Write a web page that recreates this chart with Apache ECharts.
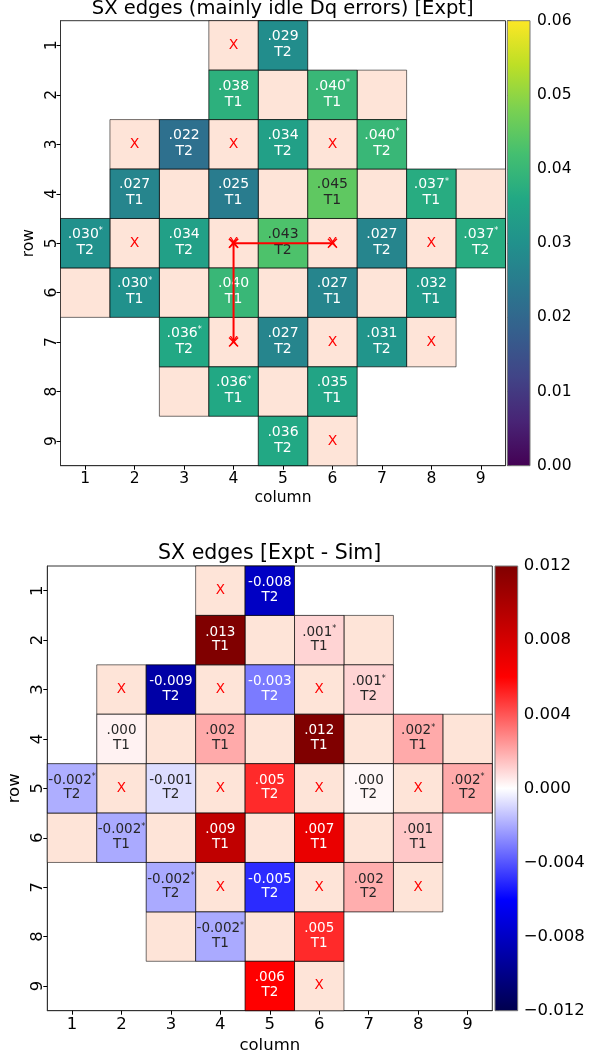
<!DOCTYPE html>
<html><head><meta charset="utf-8">
<script src="https://cdn.jsdelivr.net/npm/echarts@6/dist/echarts.min.js"></script>
<style>html,body{margin:0;padding:0;background:#fff}#c{width:612px;height:1059px}</style>
</head><body><div id="c"></div>
<script>
// ---------- data ----------
const COLUMNS = ['1','2','3','4','5','6','7','8','9'];
const ROWS = ['1','2','3','4','5','6','7','8','9'];
// measured SX edges: [row, column, gate, starred]
const edgeCells = [
  [1,5,'T2',false],[2,4,'T1',false],[2,6,'T1',true],[3,3,'T2',false],[3,5,'T2',false],[3,7,'T2',true],
  [4,2,'T1',false],[4,4,'T1',false],[4,6,'T1',false],[4,8,'T1',true],
  [5,1,'T2',true],[5,3,'T2',false],[5,5,'T2',false],[5,7,'T2',false],[5,9,'T2',true],
  [6,2,'T1',true],[6,4,'T1',false],[6,6,'T1',false],[6,8,'T1',false],
  [7,3,'T2',true],[7,5,'T2',false],[7,7,'T2',false],
  [8,4,'T1',true],[8,6,'T1',false],[9,5,'T2',false]
];
const exptValues = [0.029,0.038,0.040,0.022,0.034,0.040,0.027,0.025,0.045,0.037,
  0.030,0.034,0.043,0.027,0.037,0.030,0.040,0.027,0.032,0.036,0.027,0.031,0.036,0.035,0.036];
const diffValues = [-0.008,0.013,0.001,-0.009,-0.0031,0.001,0.0003,0.002,0.012,0.002,
  -0.0019,-0.0008,0.005,0.0002,0.002,-0.002,0.009,0.007,0.0013,-0.002,-0.005,0.0019,-0.002,0.005,0.006];
// unmeasured cells: [row, column]
const blankCells = [[2,5],[2,7],[4,3],[4,5],[4,7],[4,9],[6,1],[6,3],[6,5],[6,7],[8,3],[8,5]];
const failedCells = [[1,4],[3,2],[3,4],[3,6],[5,2],[5,4],[5,6],[5,8],[7,4],[7,6],[7,8],[9,6]];
// highlighted paths: [column, row]
const highlightPaths = [[[4,5],[6,5]], [[4,5],[4,7]]];
// colour bar scales
const exptRange = [0, 0.06], exptStep = 0.01;
const diffRange = [-0.012, 0.012], diffStep = 0.004;

// ---------- styles ----------
const F = 'DejaVu Sans';
const PEACH = '#fee4d8';
const VIRIDIS = ['#440154','#482475','#414487','#355f8d','#2a788e','#21918c','#22a884','#44bf70','#7ad151','#bddf26','#fde725'];
const SEISMIC = ['#00004d','#0000ff','#ffffff','#ff0000','#800000'];

function lum(c){ const p = echarts.color.parse(c); return (0.299*p[0]+0.587*p[1]+0.114*p[2])/255; }

function fmtExpt(v){ return '.' + v.toFixed(3).split('.')[1]; }
function fmtDiff(v){ const s = v.toFixed(3); return v < 0 ? s : s.slice(1); }

function valueSeries(values, range, gi, fmt, fs, offV, offT, thr){
  return {
    type:'custom', xAxisIndex:gi, yAxisIndex:gi, z:2,
    data: edgeCells.map((e,i)=>[e[1]-1, e[0]-1, values[i], Math.min(range[1], Math.max(range[0], values[i]))]),
    encode:{x:0, y:1},
    renderItem(params, api){
      const p = api.coord([api.value(0), api.value(1)]);
      const s = api.size([1,1]);
      const color = api.visual('color');
      const e = edgeCells[params.dataIndex];
      const v = api.value(2);
      const tc = lum(color) > thr ? '#262626' : '#ffffff';
      const lbl = fmt(v);
      const txt = e[3] ? `{v|${lbl}}{s|*}` : `{v|${lbl}}`;
      return {type:'group', children:[
        {type:'rect', shape:{x:p[0]-s[0]/2, y:p[1]-s[1]/2, width:s[0], height:s[1]},
          style:{fill:color, stroke:'rgba(0,0,0,0.7)', lineWidth:1}},
        {type:'text', x:p[0], y:p[1]+offV, style:{text:txt, align:'center', verticalAlign:'middle',
          rich:{v:{fontSize:fs, fontFamily:F, fill:tc}, s:{fontSize:8, fontFamily:F, fill:tc, verticalAlign:'top'}}}},
        {type:'text', x:p[0], y:p[1]+offT, style:{text:e[2], align:'center', verticalAlign:'middle',
          fontSize:fs, fontFamily:F, fill:tc}}
      ]};
    }
  };
}

function emptySeries(gi, fs){
  const data = blankCells.map(c=>[c[1]-1, c[0]-1, 0]).concat(failedCells.map(c=>[c[1]-1, c[0]-1, 1]));
  return {
    type:'custom', xAxisIndex:gi, yAxisIndex:gi, z:1, data, encode:{x:0, y:1},
    renderItem(params, api){
      const p = api.coord([api.value(0), api.value(1)]);
      const s = api.size([1,1]);
      const ch = [{type:'rect', shape:{x:p[0]-s[0]/2, y:p[1]-s[1]/2, width:s[0], height:s[1]},
        style:{fill:PEACH, stroke:'rgba(0,0,0,0.55)', lineWidth:1}}];
      if (api.value(2) === 1) ch.push({type:'text', x:p[0], y:p[1], style:{text:'X', align:'center', verticalAlign:'middle', fontSize:fs, fontFamily:F, fill:'#ff0000'}});
      return {type:'group', children:ch};
    }
  };
}

function colorbarSeries(gi, range, colors){
  const stops = colors.map((c,i)=>({offset:i/(colors.length-1), color:c}));
  return {
    type:'custom', xAxisIndex:gi, yAxisIndex:gi, data:[[0, range[0], range[1]]], encode:{x:0, y:[1,2]},
    renderItem(params, api){
      const a = api.coord([0, api.value(2)]);
      const b = api.coord([1, api.value(1)]);
      return {type:'rect', shape:{x:a[0], y:a[1], width:b[0]-a[0], height:b[1]-a[1]},
        style:{fill:new echarts.graphic.LinearGradient(0,1,0,0,stops), stroke:'#777', lineWidth:1}};
    }
  };
}

function mainAxes(gi, fs, xMargin, yMargin, xGap, yGap){
  return {
    x:{gridIndex:gi, type:'category', data:COLUMNS, boundaryGap:true,
      axisLine:{show:true, lineStyle:{color:'#333', width:1}},
      axisTick:{show:true, alignWithLabel:true, interval:0, length:4, lineStyle:{color:'#000'}},
      axisLabel:{interval:0, fontSize:fs, fontFamily:F, color:'#000', margin:xMargin},
      splitLine:{show:false},
      name:'column', nameLocation:'middle', nameGap:xGap, nameMoveOverlap:false,
      nameTextStyle:{fontSize:fs, fontFamily:F, color:'#000'}},
    y:{gridIndex:gi, type:'category', data:ROWS, inverse:true, boundaryGap:true,
      axisLine:{show:true, lineStyle:{color:'#333', width:1}},
      axisTick:{show:true, alignWithLabel:true, interval:0, length:4, lineStyle:{color:'#000'}},
      axisLabel:{interval:0, rotate:90, fontSize:fs, fontFamily:F, color:'#000', margin:yMargin},
      splitLine:{show:false},
      name:'row', nameLocation:'middle', nameGap:yGap, nameMoveOverlap:false,
      nameTextStyle:{fontSize:fs, fontFamily:F, color:'#000'}}
  };
}

function cbAxes(gi, range, step, fs, margin, fmt){
  return {
    x:{gridIndex:gi, type:'value', min:0, max:1, show:false},
    y:{gridIndex:gi, type:'value', position:'right', min:range[0], max:range[1], interval:step,
      axisLine:{show:false}, splitLine:{show:false},
      axisTick:{show:true, length:4, lineStyle:{color:'#000'}},
      axisLabel:{fontSize:fs, fontFamily:F, color:'#000', margin:margin, formatter:fmt}}
  };
}

const a0 = mainAxes(0, 15.5, 5, 1, 24, 23.5);
const a1 = cbAxes(1, exptRange, exptStep, 15.5, 7, v=>v.toFixed(2));
const a2 = mainAxes(2, 16.5, 6, 1, 27, 24);
const a3 = cbAxes(3, diffRange, diffStep, 16.5, 6, v=>{ if (Math.abs(v)<1e-9) v=0; return v.toFixed(3).replace('-', '\u2212'); });

const pathSeries = highlightPaths.map(path=>({
  type:'line', xAxisIndex:0, yAxisIndex:0, z:5,
  data: path.map(pt=>[pt[0]-1, pt[1]-1]),
  lineStyle:{color:'#ff0000', width:2},
  symbol:'path://M0 0L10 10M10 0L0 10', symbolSize:9, showSymbol:true,
  itemStyle:{color:'#ff0000', borderColor:'#ff0000', borderWidth:1.5},
  emphasis:{disabled:true}, silent:true
}));

const series = [
  emptySeries(0, 14),
  valueSeries(exptValues, exptRange, 0, fmtExpt, 14, -9, 7, 0.565),
  colorbarSeries(1, exptRange, VIRIDIS),
  emptySeries(2, 13.5),
  valueSeries(diffValues, diffRange, 2, fmtDiff, 13.5, -8, 6.5, 0.62),
  colorbarSeries(3, diffRange, SEISMIC)
].concat(pathSeries);

const G = {outerBoundsMode:'none', containLabel:false};
const chart = echarts.init(document.getElementById('c'), null, {renderer:'canvas'});
chart.setOption({
  animation:false,
  backgroundColor:'#fff',
  title:[
    {text:'SX edges (mainly idle Dq errors) [Expt]', left:282.7, top:-1, textAlign:'center', padding:0,
      textStyle:{fontSize:19.5, fontWeight:'normal', fontFamily:F, color:'#000'}},
    {text:'SX edges [Expt - Sim]', left:269.7, top:543.5, textAlign:'center', padding:0,
      textStyle:{fontSize:20.5, fontWeight:'normal', fontFamily:F, color:'#000'}}
  ],
  grid:[
    Object.assign({left:60.5, top:20.7, width:445, height:445, show:true, borderColor:'#333', borderWidth:1, backgroundColor:'transparent'}, G),
    Object.assign({left:507.3, top:20.7, width:22.7, height:445}, G),
    Object.assign({left:47.3, top:566, width:445, height:444.7, show:true, borderColor:'#333', borderWidth:1, backgroundColor:'transparent'}, G),
    Object.assign({left:495, top:566, width:22.7, height:444.7}, G)
  ],
  xAxis:[a0.x, a1.x, a2.x, a3.x],
  yAxis:[a0.y, a1.y, a2.y, a3.y],
  visualMap:[
    {type:'continuous', show:false, min:exptRange[0], max:exptRange[1], dimension:3, seriesIndex:1, inRange:{color:VIRIDIS}},
    {type:'continuous', show:false, min:diffRange[0], max:diffRange[1], dimension:3, seriesIndex:4, inRange:{color:SEISMIC}}
  ],
  series
});
</script></body></html>
